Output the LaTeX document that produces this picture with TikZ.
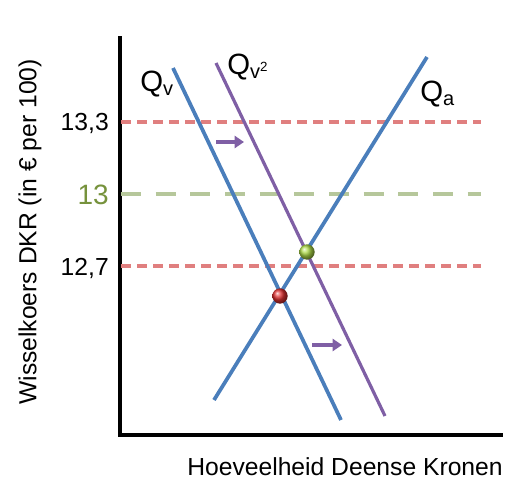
\documentclass[tikz,border=0pt]{standalone}
\usepackage{fontspec}
\setmainfont{Liberation Sans}
\usetikzlibrary{arrows.meta,shadows}
\definecolor{qblue}{HTML}{4A7EBB}
\definecolor{qpurple}{HTML}{7F5FA5}
\definecolor{dred}{HTML}{E07F7F}
\definecolor{dgreen}{HTML}{B6C79B}
\definecolor{olive}{HTML}{76923C}
\definecolor{ballred}{HTML}{E03030}
\definecolor{ballgreen}{HTML}{AEDB48}
\tikzset{
  axisline/.style={line width=3.5pt, black},
  curveblue/.style={line width=2.8pt, qblue},
  curvepurple/.style={line width=2.4pt, qpurple},
  reddash/.style={line width=2.3pt, dred, dash pattern=on 7.5pt off 4.5pt},
  greendash/.style={line width=3pt, dgreen, dash pattern=on 15pt off 11pt},
  shiftarrow/.style={line width=3pt, qpurple, -{Triangle[length=7pt,width=9pt]}},
  lbl/.style={font=\fontsize{18.5}{21}\selectfont, inner sep=0pt},
  qlbl/.style={font=\fontsize{22}{25}\selectfont, inner sep=0pt},
  ball/.style={circle, minimum size=11.5pt, inner sep=0pt, shading=ball},
}
\newcommand{\subfs}{\fontsize{15}{17}\selectfont}
\newcommand{\supfs}{\fontsize{10}{11}\selectfont}
\begin{document}
\begin{tikzpicture}[x=0.75pt,y=-0.75pt]
\useasboundingbox (0,0) rectangle (524,496);
% axes
\coordinate (ytop) at (120,36);
\coordinate (orig) at (120,435);
\coordinate (xend) at (503,435);
\draw[axisline] (ytop) -- (orig) -- (xend);
% dashed levels
\coordinate (r1a) at (121,122); \coordinate (r1b) at (481,122);
\coordinate (ga) at (121,194); \coordinate (gb) at (481,194);
\coordinate (r2a) at (121,266); \coordinate (r2b) at (481,266);
\draw[reddash] (r1a) -- (r1b);
\draw[greendash] (ga) -- (gb);
\draw[reddash] (r2a) -- (r2b);
% curves
\coordinate (qv1) at (173,68); \coordinate (qv2) at (341,420);
\coordinate (qw1) at (216,63); \coordinate (qw2) at (385,416);
\coordinate (qa1) at (214,400); \coordinate (qa2) at (427,57);
\draw[curveblue] (qv1) -- (qv2);
\draw[curvepurple] (qw1) -- (qw2);
\draw[curveblue] (qa1) -- (qa2);
% shift arrows
\coordinate (s1a) at (216,142); \coordinate (s1b) at (244,142);
\coordinate (s2a) at (312,345); \coordinate (s2b) at (342,345);
\draw[shiftarrow] (s1a) -- (s1b);
\draw[shiftarrow] (s2a) -- (s2b);
% equilibria
\node[ball, ball color=ballred] (e1) at (280,296) {};
\node[ball, ball color=ballgreen] (e2) at (307,252) {};
% curve labels
\node[qlbl, anchor=west] (lqv) at (140,84) {Q\raisebox{-3pt}{\subfs v}};
\node[qlbl, anchor=west] (lqw) at (227,67) {Q\raisebox{-3pt}{\subfs v\raisebox{5pt}{\supfs 2}}};
\node[qlbl, anchor=west] (lqa) at (420,94) {Q\raisebox{-3pt}{\subfs a}};
% tick labels
\node[lbl, anchor=east] (t1) at (109,123) {13,3};
\node[lbl, anchor=east, text=olive, font=\fontsize{21}{24}\selectfont] (t2) at (109,195) {13};
\node[lbl, anchor=east] (t3) at (109,268) {12,7};
% axis titles
\node[lbl, rotate=90] (ylab) at (30,232) {Wisselkoers DKR (in € per 100)};
\node[lbl] (xlab) at (345,467) {Hoeveelheid Deense Kronen};
\end{tikzpicture}
\end{document}
